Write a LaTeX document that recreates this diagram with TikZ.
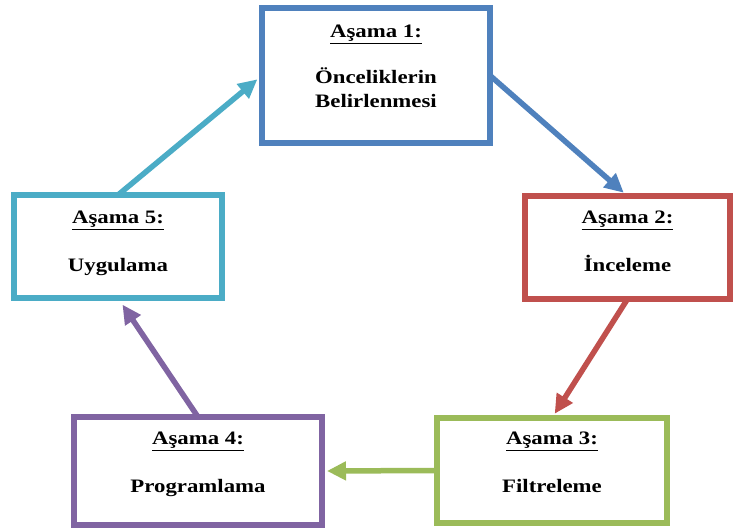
\documentclass[tikz,border=0pt]{standalone}
\usepackage{fontspec}
\setmainfont[FakeStretch=1.2]{Liberation Serif}
\usetikzlibrary{arrows.meta}

\definecolor{asamaMavi}{HTML}{4F81BD}
\definecolor{asamaKirmizi}{HTML}{C0504D}
\definecolor{asamaYesil}{HTML}{9BBB59}
\definecolor{asamaMor}{HTML}{8064A2}
\definecolor{asamaTurkuaz}{HTML}{4BACC6}

\tikzset{
  asama/.style={draw=#1, line width=6pt, outer sep=0pt, inner sep=0pt},
  yazi/.style={anchor=north, align=center, inner sep=0pt,
    font=\fontsize{19}{24}\selectfont\bfseries},
  ok/.style={draw=#1, line width=5.5pt, -{Triangle[length=19pt,width=18pt]}, shorten >=5pt},
}

\begin{document}
\begin{tikzpicture}[x=1pt, y=-1pt]
  \useasboundingbox (0,0) rectangle (733,532);

  % Aşama kutuları
  \node[asama=asamaMavi, minimum width=228pt, minimum height=135pt] (s1) at (376,75.5) {};
  \node[asama=asamaKirmizi, minimum width=205pt, minimum height=103pt] (s2) at (627.5,247.5) {};
  \node[asama=asamaYesil, minimum width=230pt, minimum height=105pt] (s3) at (552,470.5) {};
  \node[asama=asamaMor, minimum width=248pt, minimum height=108pt] (s4) at (198,471) {};
  \node[asama=asamaTurkuaz, minimum width=208pt, minimum height=103pt] (s5) at (118,246.5) {};

  % Kutu yazıları
  \node[yazi] (y1) at ([yshift=-17pt]s1.north) {\underline{Aşama 1:}\\[22pt]Önceliklerin\\Belirlenmesi};
  \node[yazi] (y2) at ([yshift=-15pt]s2.north) {\underline{Aşama 2:}\\[24pt]İnceleme};
  \node[yazi] (y3) at ([yshift=-14pt]s3.north) {\underline{Aşama 3:}\\[24pt]Filtreleme};
  \node[yazi] (y4) at ([yshift=-15pt]s4.north) {\underline{Aşama 4:}\\[24pt]Programlama};
  \node[yazi] (y5) at ([yshift=-16pt]s5.north) {\underline{Aşama 5:}\\[24pt]Uygulama};

  % Döngü okları
  \draw[ok=asamaMavi] (s1.east) -- (s2.north);
  \draw[ok=asamaKirmizi] (s2.south) -- (s3.north);
  \draw[ok=asamaYesil] (s3.west) -- (s4.east);
  \draw[ok=asamaMor, shorten >=8pt] (s4.north) -- (s5.south);
  \draw[ok=asamaTurkuaz, shorten >=6pt] (s5.north) -- (s1.west);
\end{tikzpicture}
\end{document}
